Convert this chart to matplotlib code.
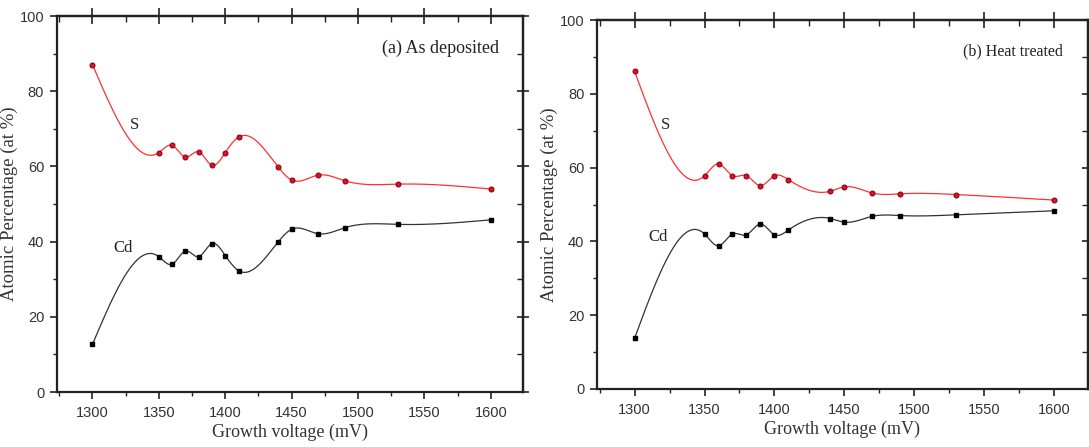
import numpy as np
import matplotlib.pyplot as plt
from matplotlib.ticker import MultipleLocator

# Growth voltage (mV)
voltage = [1300, 1350, 1360, 1370, 1380, 1390, 1400, 1410, 1440, 1450, 1470, 1490, 1530, 1600]

# (a) as deposited
s_dep = [87.1, 63.7, 65.6, 62.5, 63.9, 60.3, 63.7, 67.8, 59.8, 56.4, 57.7, 56.2, 55.3, 54.0]
cd_dep = [12.7, 36.0, 34.0, 37.5, 36.0, 39.5, 36.3, 32.3, 40.0, 43.3, 42.1, 43.7, 44.6, 45.8]

# (b) heat treated
s_ht = [86.1, 57.8, 61.0, 57.8, 57.8, 55.1, 57.8, 56.7, 53.6, 54.8, 53.1, 52.9, 52.7, 51.2]
cd_ht = [13.7, 42.0, 38.8, 42.0, 41.8, 44.7, 41.8, 43.1, 46.2, 45.2, 46.8, 47.0, 47.2, 48.3]

SERIF = ['Liberation Serif', 'DejaVu Serif']
TICKFONT = ['Liberation Sans Narrow', 'Liberation Sans', 'DejaVu Sans']


def smooth(x, y, n=600):
    # natural cubic spline through the points, only used to draw the connecting line
    x = np.asarray(x, float)
    y = np.asarray(y, float)
    h = np.diff(x)
    k = len(x)
    A = np.zeros((k, k))
    b = np.zeros(k)
    A[0, 0] = A[-1, -1] = 1
    for i in range(1, k - 1):
        A[i, i - 1] = h[i - 1]
        A[i, i] = 2 * (h[i - 1] + h[i])
        A[i, i + 1] = h[i]
        b[i] = 6 * ((y[i + 1] - y[i]) / h[i] - (y[i] - y[i - 1]) / h[i - 1])
    M = np.linalg.solve(A, b)
    xs = np.linspace(x[0], x[-1], n)
    idx = np.clip(np.searchsorted(x, xs) - 1, 0, k - 2)
    x0, x1 = x[idx], x[idx + 1]
    hh = x1 - x0
    t0, t1 = x1 - xs, xs - x0
    ys = (M[idx] * t0**3 + M[idx + 1] * t1**3) / (6 * hh) \
        + (y[idx] / hh - M[idx] * hh / 6) * t0 + (y[idx + 1] / hh - M[idx + 1] * hh / 6) * t1
    return xs, ys


def panel(ax, s, cd, title, title_size, s_pos, cd_pos):
    xs, ys = smooth(voltage, s)
    ax.plot(xs, ys, color='#ff3030', lw=0.9)
    ax.plot(voltage, s, 'o', color='#e0102a', mec='#8a0010', ms=3.5, mew=0.8)
    xs, ys = smooth(voltage, cd)
    ax.plot(xs, ys, color='#333333', lw=0.9)
    ax.plot(voltage, cd, 's', color='black', ms=3.5)

    ax.set_xlim(1273, 1624)
    ax.set_ylim(0, 100)
    ax.xaxis.set_major_locator(MultipleLocator(50))
    ax.xaxis.set_minor_locator(MultipleLocator(25))
    ax.yaxis.set_major_locator(MultipleLocator(20))
    ax.yaxis.set_minor_locator(MultipleLocator(10))
    ax.tick_params(which='major', direction='out', length=5, width=1.2, color='#222222', pad=5,
                   labelsize=10.5, labelcolor='#333333')
    ax.tick_params(axis='y', which='major', pad=4)
    ax.tick_params(which='minor', direction='out', length=3, width=1.0, color='#222222')
    for lab in ax.get_xticklabels() + ax.get_yticklabels():
        lab.set_family(TICKFONT)
    for sp in ax.spines.values():
        sp.set_linewidth(1.6)
        sp.set_color('#222222')

    top = ax.secondary_xaxis('top')
    top.xaxis.set_major_locator(MultipleLocator(50))
    top.xaxis.set_minor_locator(MultipleLocator(25))
    top.tick_params(which='major', direction='inout', length=11, width=1.2, color='#222222', labeltop=False)
    top.tick_params(which='minor', direction='in', length=4, width=1.0, color='#222222')
    top.spines['top'].set_linewidth(1.6)
    right = ax.secondary_yaxis('right')
    right.yaxis.set_major_locator(MultipleLocator(20))
    right.yaxis.set_minor_locator(MultipleLocator(10))
    right.tick_params(which='major', direction='inout', length=9, width=1.2, color='#222222', labelright=False)
    right.tick_params(which='minor', direction='in', length=4, width=1.0, color='#222222')
    right.spines['right'].set_linewidth(1.6)

    ax.set_xlabel('Growth voltage (mV)', family=SERIF, fontsize=13, color='#333333', labelpad=3)
    ax.set_ylabel('Atomic Percentage (at %)', family=SERIF, fontsize=13.5, color='#333333', labelpad=1)
    ax.text(1606, 91.5, title, family=SERIF, fontsize=title_size, ha='right', va='center', color='#222222')
    ax.text(s_pos[0], s_pos[1], 'S', family=SERIF, fontsize=12, ha='center', va='center', color='#222222')
    ax.text(cd_pos[0], cd_pos[1], 'Cd', family=SERIF, fontsize=12, ha='center', va='center', color='#222222')


fig = plt.figure(figsize=(10.89, 4.47), dpi=100)
ax1 = fig.add_axes([0.052, 0.123, 0.428, 0.841])
ax2 = fig.add_axes([0.548, 0.130, 0.451, 0.825])

panel(ax1, s_dep, cd_dep, '(a) As deposited', 13, (1332, 71), (1323, 38.2))
panel(ax2, s_ht, cd_ht, '(b) Heat treated', 11.5, (1322, 71.6), (1317, 41.2))

fig.savefig('out.png', dpi=100)
